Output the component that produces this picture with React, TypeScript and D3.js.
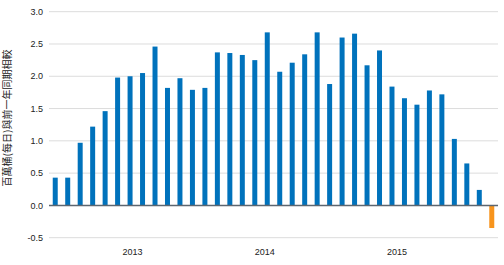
import React from "react";
import * as d3 from "d3";

const values: number[] = [
  0.43, 0.43, 0.97, 1.22, 1.46, 1.98, 2.0, 2.05, 2.46, 1.82, 1.97, 1.79,
  1.82, 2.37, 2.36, 2.33, 2.25, 2.68, 2.07, 2.21, 2.34, 2.68, 1.88, 2.6,
  2.66, 2.17, 2.4, 1.84, 1.66, 1.56, 1.78, 1.72, 1.03, 0.65, 0.24, -0.35,
];
const categories: number[] = values.map((_, i) => i);
const yTicks: number[] = [-0.5, 0, 0.5, 1.0, 1.5, 2.0, 2.5, 3.0];
const xTickLabels: string[] = ["2013", "2014", "2015"];
const xTickIndex: number[] = [6.2, 16.8, 27.4];
const yLabel = "百萬桶(每日)與前一年同期相較";

const W = 504;
const H = 265;
const left = 49;
const right = 498;
const top = 11.7;
const bottom = 237.7;

export default function App() {
  const x = d3
    .scaleBand<number>()
    .domain(categories)
    .range([left, right])
    .paddingInner(0.6)
    .paddingOuter(0.3);
  const y = d3.scaleLinear().domain([-0.5, 3]).range([bottom, top]);
  const step = x.step();
  const idx = d3
    .scaleLinear()
    .domain([0, 1])
    .range([(x(0) as number) + x.bandwidth() / 2, (x(0) as number) + x.bandwidth() / 2 + step]);
  const font = "Arial, 'Liberation Sans', sans-serif";
  return (
    <svg
      width={W}
      height={H}
      style={{ position: "absolute", left: 0, top: 0, background: "#fff" }}
    >
      {yTicks.map((t) => (
        <g key={t}>
          {t !== 0 && (
            <line x1={left} x2={right} y1={y(t)} y2={y(t)} stroke="#dcdcdc" strokeWidth={1} />
          )}
          <text
            x={43}
            y={y(t)}
            dy="0.35em"
            textAnchor="end"
            fontFamily={font}
            fontSize={9}
            fill="#222"
          >
            {t.toFixed(1)}
          </text>
        </g>
      ))}
      {values.map((v, i) => (
        <rect
          key={i}
          x={x(categories[i])}
          width={x.bandwidth()}
          y={y(Math.max(0, v))}
          height={Math.abs(y(v) - y(0))}
          fill={v >= 0 ? "#0072bc" : "#f7941d"}
        />
      ))}
      <line x1={left} x2={right} y1={y(0)} y2={y(0)} stroke="#5c6670" strokeWidth={1.5} />
      {xTickLabels.map((l, i) => (
        <text
          key={l}
          x={idx(xTickIndex[i])}
          y={255}
          textAnchor="middle"
          fontFamily={font}
          fontSize={9}
          fill="#222"
        >
          {l}
        </text>
      ))}
      <text
        transform={`translate(11,118) rotate(-90)`}
        textAnchor="middle"
        fontFamily="'Noto Sans CJK TC', sans-serif"
        fontSize={10}
        fill="#222"
      >
        {yLabel}
      </text>
    </svg>
  );
}
